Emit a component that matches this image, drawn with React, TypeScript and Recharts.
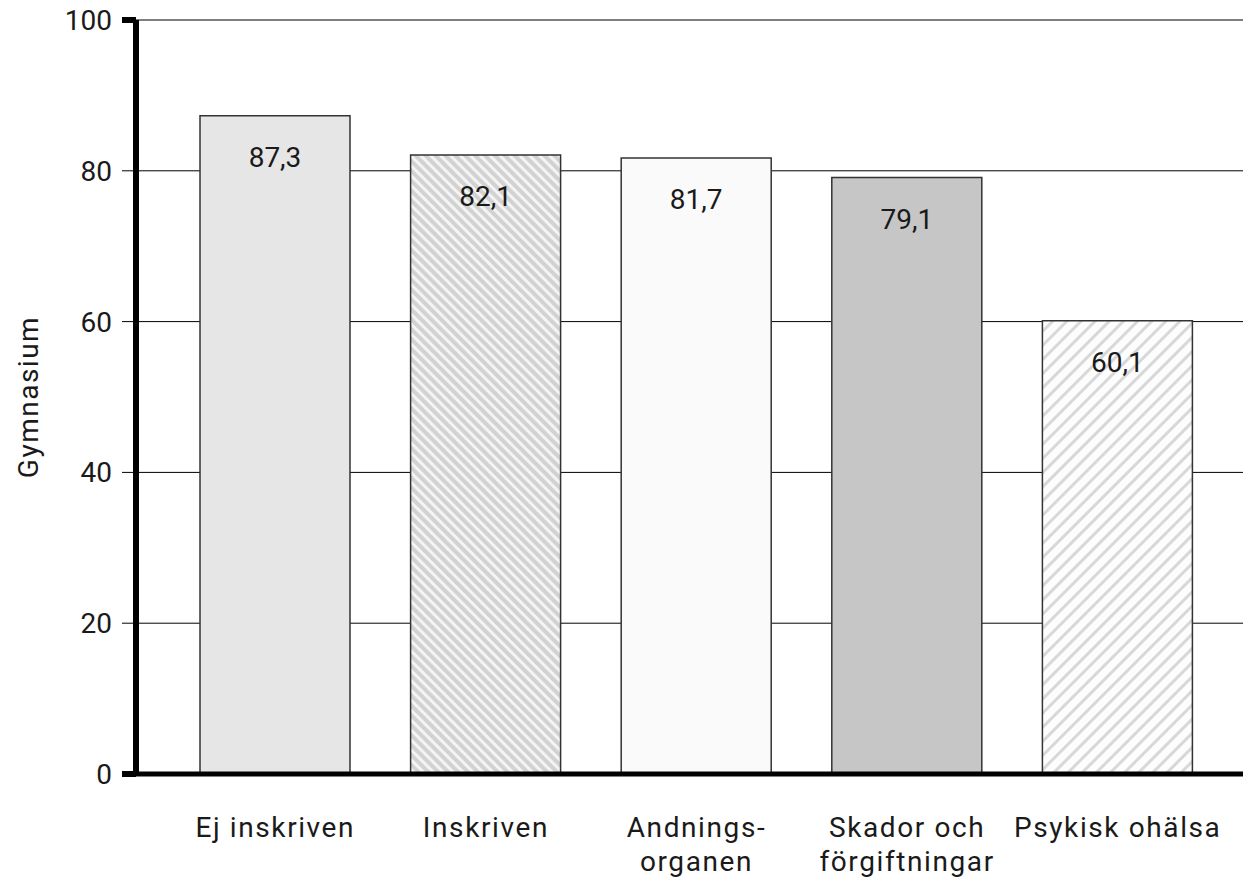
import { Bar, BarChart, CartesianGrid, Cell, LabelList, XAxis, YAxis } from "recharts";

const categories = ["Ej inskriven", "Inskriven", "Andnings-\norganen", "Skador och\nförgiftningar", "Psykisk ohälsa"];
const values = [87.3, 82.1, 81.7, 79.1, 60.1];
const yTicks = [0, 20, 40, 60, 80, 100];
const fills = ["#e6e6e6", "url(#hatchBack)", "#fafafa", "#c6c6c6", "url(#hatchFwd)"];

const data = categories.map((name, i) => ({ name, value: values[i] }));

const FONT = "Roboto, 'DejaVu Sans', sans-serif";

function YTick(props: any) {
  const { x, y, payload } = props;
  const thick = payload.value === 0 || payload.value === 100;
  return (
    <g>
      <line
        x1={x + 10}
        x2={x + 24}
        y1={y}
        y2={y}
        stroke="#000"
        strokeWidth={thick ? 6 : 1}
      />
      <text x={x} y={y} dy={10} textAnchor="end" fontSize={28} fontFamily={FONT} fill="#1a1a1a">
        {payload.value}
      </text>
    </g>
  );
}

function XTick(props: any) {
  const { x, y, payload } = props;
  const lines = String(payload.value).split("\n");
  return (
    <text
      x={x}
      y={y}
      textAnchor="middle"
      fontSize={28}
      letterSpacing={1.6}
      fontFamily={FONT}
      fill="#1a1a1a"
    >
      {lines.map((l, i) => (
        <tspan key={i} x={x} dy={i === 0 ? 55 : 34}>
          {l}
        </tspan>
      ))}
    </text>
  );
}

function ValueLabel(props: any) {
  const { x, y, width, value } = props;
  return (
    <text
      x={x + width / 2}
      y={y + 51}
      textAnchor="middle"
      fontSize={28}
      fontFamily={FONT}
      fill="#1a1a1a"
    >
      {String(value).replace(".", ",")}
    </text>
  );
}

function YLabel(props: any) {
  const { viewBox } = props;
  const cx = 28;
  const cy = viewBox.y + viewBox.height / 2;
  return (
    <text
      x={cx}
      y={cy}
      transform={`rotate(-90 ${cx} ${cy})`}
      textAnchor="middle"
      dominantBaseline="central"
      fontSize={28}
      letterSpacing={1.5}
      fontFamily={FONT}
      fill="#1a1a1a"
    >
      Gymnasium
    </text>
  );
}

export default function App() {
  return (
    <div style={{ position: "absolute", left: 0, top: 0, background: "#fff" }}>
      <BarChart
        width={1243}
        height={884}
        data={data}
        margin={{ top: 20, right: 0, left: 0, bottom: 0 }}
        barSize={150}
      >
        <defs>
          <pattern id="hatchBack" width="7" height="7" patternUnits="userSpaceOnUse" patternTransform="rotate(-45)">
            <rect width="7" height="7" fill="#f4f4f4" />
            <rect width="4" height="7" fill="#d2d2d2" />
          </pattern>
          <pattern id="hatchFwd" width="10" height="10" patternUnits="userSpaceOnUse" patternTransform="rotate(45)">
            <rect width="10" height="10" fill="#fdfdfd" />
            <rect width="3" height="10" fill="#d8d8d8" />
          </pattern>
        </defs>
        <CartesianGrid vertical={false} stroke="#000" strokeWidth={1} />
        <XAxis
          dataKey="name"
          interval={0}
          height={110}
          padding={{ left: 34, right: 20 }}
          axisLine={{ stroke: "#000", strokeWidth: 5 }}
          tickLine={false}
          tick={<XTick />}
        />
        <YAxis
          domain={[0, 100]}
          ticks={yTicks}
          width={136}
          tickSize={14}
          tickMargin={10}
          tickLine={false}
          axisLine={{ stroke: "#000", strokeWidth: 6 }}
          tick={<YTick />}
          label={<YLabel />}
        />
        <Bar dataKey="value" isAnimationActive={false} stroke="#333" strokeWidth={1.5}>
          {data.map((_, i) => (
            <Cell key={i} fill={fills[i]} />
          ))}
          <LabelList dataKey="value" content={<ValueLabel />} />
        </Bar>
      </BarChart>
    </div>
  );
}
